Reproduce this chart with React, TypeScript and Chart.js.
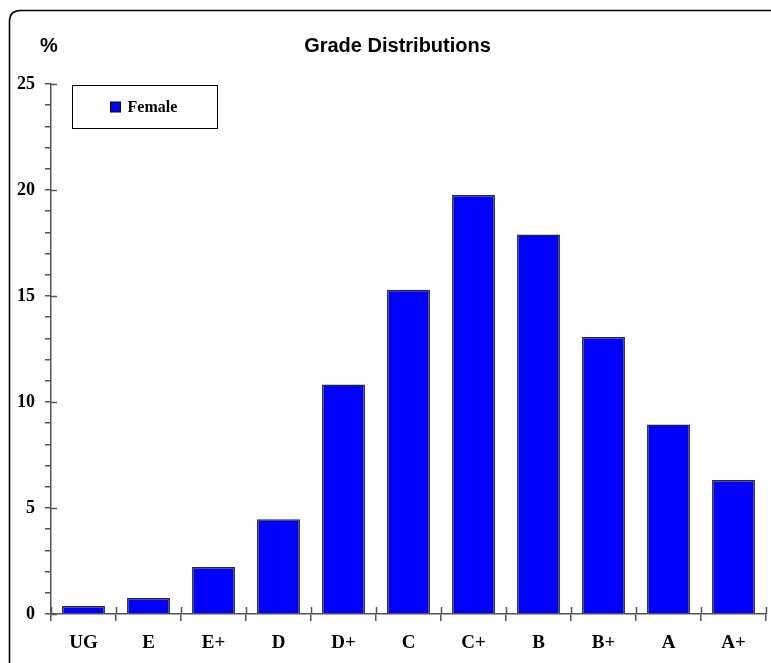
import React, { useEffect, useRef } from "react";
import { Chart, registerables } from "chart.js";

Chart.register(...registerables);

const categories = ["UG", "E", "E+", "D", "D+", "C", "C+", "B", "B+", "A", "A+"];
const femaleValues = [0.38, 0.75, 2.22, 4.47, 10.82, 15.29, 19.76, 17.9, 13.07, 8.94, 6.32];
const seriesLabel = "Female";
const chartTitle = "Grade Distributions";
const yAxisTitle = "%";
const yMin = 0;
const yMax = 25;
const yMajorStep = 5;
const yMinorStep = 1;

const AXIS_COLOR = "#555555";
const SERIF = "'Liberation Serif', 'Times New Roman', serif";
const SANS = "'Liberation Sans', Arial, sans-serif";

const decorPlugin = {
  id: "decor",
  beforeDraw(chart: any) {
    const ctx = chart.ctx;
    const W = chart.width;
    const H = chart.height;
    ctx.save();
    ctx.fillStyle = "#ffffff";
    ctx.fillRect(0, 0, W, H);
    // frame with rounded top-left corner
    ctx.strokeStyle = "#000000";
    ctx.lineWidth = 1.6;
    ctx.beginPath();
    const x0 = 9.5, y0 = 10.5, r = 11;
    ctx.moveTo(x0, H + 2);
    ctx.lineTo(x0, y0 + r);
    ctx.quadraticCurveTo(x0, y0, x0 + r, y0);
    ctx.lineTo(W + 2, y0);
    ctx.stroke();
    ctx.restore();
  },
  afterDraw(chart: any) {
    const ctx = chart.ctx;
    const area = chart.chartArea;
    const xs = chart.scales.x;
    const ys = chart.scales.y;
    ctx.save();
    // inner parts of tick marks
    ctx.strokeStyle = AXIS_COLOR;
    ctx.lineWidth = 1.5;
    ctx.beginPath();
    for (let v = yMin; v <= yMax; v += yMajorStep) {
      const py = Math.round(ys.getPixelForValue(v)) + 0.5;
      ctx.moveTo(area.left, py);
      ctx.lineTo(area.left + 6, py);
    }
    for (let i = 0; i <= categories.length; i++) {
      const px = Math.round(xs.getPixelForValue(i - 0.5)) + 0.5;
      ctx.moveTo(px, area.bottom);
      ctx.lineTo(px, area.bottom - 7);
    }
    ctx.stroke();

    // title
    ctx.fillStyle = "#000000";
    ctx.font = "bold 20px " + SANS;
    ctx.textAlign = "center";
    ctx.textBaseline = "alphabetic";
    ctx.fillText(chartTitle, chart.width / 2 + 12, 52);
    ctx.fillText(yAxisTitle, area.left - 2, 52);

    // legend
    const ds = chart.data.datasets[0];
    const lx = area.left + 21.5;
    const ly = area.top + 1.5;
    const lw = 145;
    const lh = 43;
    ctx.fillStyle = "#ffffff";
    ctx.fillRect(lx, ly, lw, lh);
    ctx.strokeStyle = "#000000";
    ctx.lineWidth = 1;
    ctx.strokeRect(lx, ly, lw, lh);
    const sx = lx + 38;
    const sy = ly + lh / 2 - 5;
    ctx.fillStyle = ds.backgroundColor;
    ctx.fillRect(sx, sy, 10, 10);
    ctx.strokeStyle = "#000000";
    ctx.strokeRect(sx, sy, 10, 10);
    ctx.fillStyle = "#000000";
    ctx.font = "bold 16px " + SERIF;
    ctx.textAlign = "left";
    ctx.textBaseline = "middle";
    ctx.fillText(ds.label, sx + 17, ly + lh / 2 + 1);
    ctx.restore();
  },
};

export default function App() {
  const canvasRef = useRef<HTMLCanvasElement | null>(null);

  useEffect(() => {
    document.body.style.margin = "0";
    const canvas = canvasRef.current;
    if (!canvas) return;
    const chart = new Chart(canvas, {
      type: "bar",
      data: {
        labels: categories,
        datasets: [
          {
            label: seriesLabel,
            data: femaleValues,
            backgroundColor: "#0000ff",
            borderColor: "#2a2a2a",
            borderWidth: 1.5,
            barPercentage: 0.66,
            categoryPercentage: 1,
          },
        ],
      },
      options: {
        animation: false,
        responsive: false,
        maintainAspectRatio: false,
        devicePixelRatio: 1,
        layout: { padding: { left: 0, right: 5, top: 84, bottom: 0 } },
        plugins: {
          legend: { display: false },
          title: { display: false },
          tooltip: { enabled: false },
        },
        scales: {
          x: {
            offset: true,
            grid: {
              offset: true,
              drawOnChartArea: false,
              drawTicks: true,
              tickLength: 7,
              color: AXIS_COLOR,
              lineWidth: 1.5,
            },
            border: { display: true, color: AXIS_COLOR, width: 1.5 },
            ticks: {
              color: "#000000",
              font: { family: SERIF, size: 19, weight: "bold" },
              padding: 11,
              autoSkip: false,
              maxRotation: 0,
            },
            afterFit(scale: any) {
              scale.height = 49;
            },
          },
          y: {
            min: yMin,
            max: yMax,
            grid: {
              drawOnChartArea: false,
              drawTicks: true,
              tickLength: 6,
              color: AXIS_COLOR,
              lineWidth: 1.5,
            },
            border: { display: true, color: AXIS_COLOR, width: 1.5 },
            ticks: {
              stepSize: yMinorStep,
              autoSkip: false,
              color: "#000000",
              font: { family: SERIF, size: 18, weight: "bold" },
              padding: 10,
              callback: (v: any) => (Number(v) % yMajorStep === 0 ? String(v) : ""),
            },
            afterFit(scale: any) {
              scale.width = 51;
            },
          },
        },
      },
      plugins: [decorPlugin],
    } as any);
    return () => chart.destroy();
  }, []);

  return (
    <div style={{ width: 771, height: 663 }}>
      <canvas ref={canvasRef} width={771} height={663} style={{ display: "block" }} />
    </div>
  );
}
